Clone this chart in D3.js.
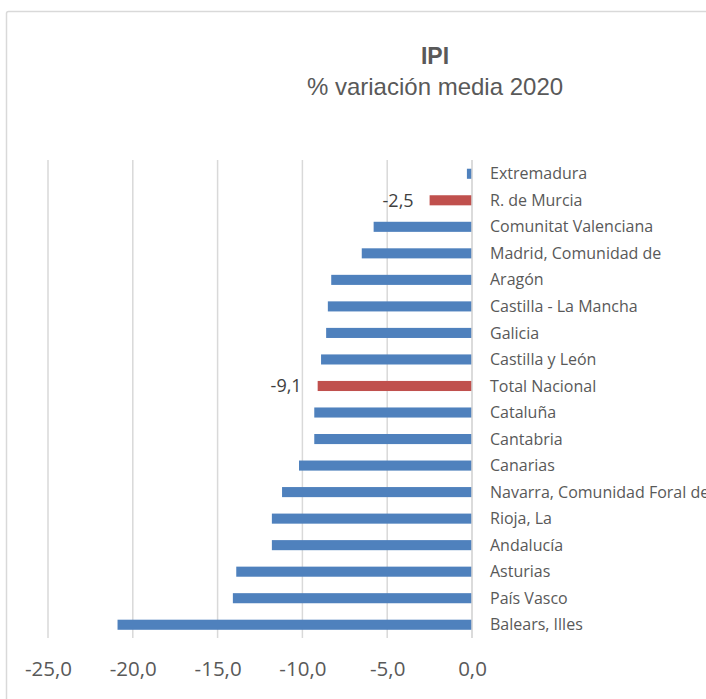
<!DOCTYPE html>
<html><head><meta charset="utf-8">
<script src="https://cdn.jsdelivr.net/npm/d3@7"></script>
<style>body{margin:0;background:#fff}svg{display:block}</style>
</head><body>
<script>
const categories = ["Extremadura","R. de Murcia","Comunitat Valenciana","Madrid, Comunidad de","Aragón","Castilla - La Mancha","Galicia","Castilla y León","Total Nacional","Cataluña","Cantabria","Canarias","Navarra, Comunidad Foral de","Rioja, La","Andalucía","Asturias","País Vasco","Balears, Illes"];
const values = [-0.3,-2.5,-5.8,-6.5,-8.3,-8.5,-8.6,-8.9,-9.1,-9.3,-9.3,-10.2,-11.2,-11.8,-11.8,-13.9,-14.1,-20.9];
const highlighted = ["R. de Murcia","Total Nacional"];
const xTicks = [-25,-20,-15,-10,-5,0];
const title = "IPI";
const subtitle = "% variación media 2020";

const W = 706, H = 699;
const svg = d3.select("body").append("svg").attr("width", W).attr("height", H);
const font = "'Open Sans', sans-serif";

svg.append("rect").attr("x",6.5).attr("y",11.5).attr("width",W+10).attr("height",H+10)
  .attr("fill","#fff").attr("stroke","#d9d9d9").attr("stroke-width",1.5).attr("rx",2);

const x = d3.scaleLinear().domain([-25,0]).range([48,472]);
const y = d3.scaleBand().domain(categories).range([160.5,638]).paddingInner(0.62).paddingOuter(0.31);

const g = svg.append("g");
g.selectAll("line.grid").data(xTicks).join("line").attr("class","grid")
  .attr("x1",d=>x(d)).attr("x2",d=>x(d)).attr("y1",160).attr("y2",638)
  .attr("stroke","#d9d9d9").attr("stroke-width",1.5);

g.selectAll("rect.bar").data(categories).join("rect").attr("class","bar")
  .attr("x",(d,i)=>x(values[i])).attr("width",(d,i)=>x(0)-x(values[i]))
  .attr("y",d=>y(d)).attr("height",y.bandwidth())
  .attr("fill",d=>highlighted.includes(d)?"#C0504D":"#4F81BD");

g.append("line").attr("x1",x(0)).attr("x2",x(0)).attr("y1",160).attr("y2",638)
  .attr("stroke","#d9d9d9").attr("stroke-width",1.5);

g.selectAll("text.cat").data(categories).join("text").attr("class","cat")
  .attr("x",490).attr("y",d=>y(d)+y.bandwidth()/2).attr("dy","0.35em")
  .attr("font-family",font).attr("font-size",16).attr("fill","#595959").text(d=>d);

g.selectAll("text.dl").data(categories.filter(c=>highlighted.includes(c))).join("text").attr("class","dl")
  .attr("x",d=>x(values[categories.indexOf(d)])-16).attr("y",d=>y(d)+y.bandwidth()/2).attr("dy","0.35em")
  .attr("text-anchor","end").attr("font-family",font).attr("font-size",18).attr("fill","#404040")
  .text(d=>d3.format(".1f")(values[categories.indexOf(d)]).replace(".",",").replace("−","-"));

const xAxis = d3.axisBottom(x).tickValues(xTicks).tickSize(0).tickFormat(d=>d3.format(".1f")(d).replace(".",",").replace("−","-"));
const ax = svg.append("g").attr("transform","translate(0,658)").call(xAxis);
ax.select(".domain").remove();
ax.selectAll("text").attr("font-family",font).attr("font-size",20.5).attr("fill","#595959");

svg.append("text").attr("x",435).attr("y",63.5).attr("text-anchor","middle")
  .attr("font-family","'Liberation Sans', Arial, sans-serif").attr("font-weight","bold").attr("font-size",23).attr("fill","#595959").text(title);
svg.append("text").attr("x",435).attr("y",95).attr("text-anchor","middle")
  .attr("font-family","'Liberation Sans', Arial, sans-serif").attr("font-size",24).attr("fill","#595959").text(subtitle);
</script>
</body></html>
